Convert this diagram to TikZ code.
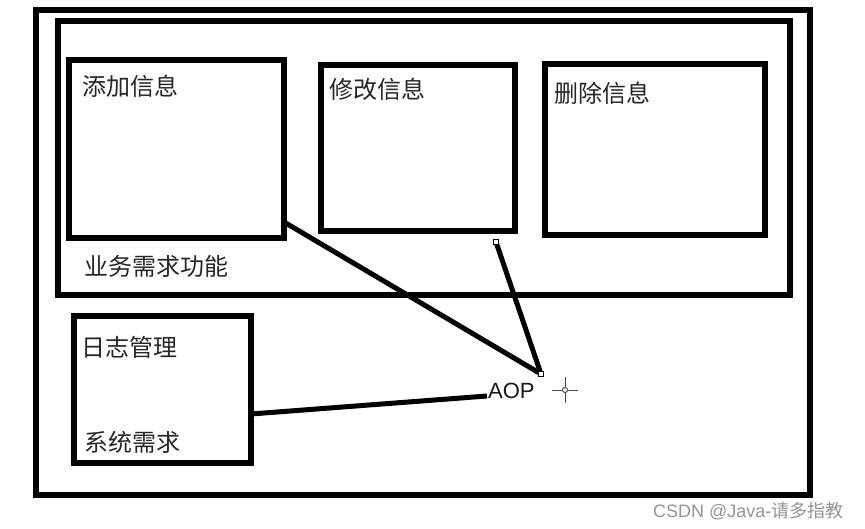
\documentclass[tikz,border=0pt]{standalone}
\usepackage{fontspec}
\setmainfont{Liberation Sans}
\newfontfamily\cjk{Noto Sans CJK SC}
\usetikzlibrary{calc}
\begin{document}
\begin{tikzpicture}[x=1pt,y=-1pt,
  box/.style={draw=black, line width=5.5pt, inner sep=0pt, outer sep=0pt, rectangle},
  link/.style={draw=black, line width=5pt},
  lbl/.style={anchor=west, inner sep=0pt, font=\cjk\fontsize{24}{24}\selectfont, text=black!85},
  handle/.style={draw=black, fill=white, line width=0.8pt, minimum size=4.5pt, inner sep=0pt, rectangle},
  crossmark/.style={draw=black!70, line width=1pt}]
\useasboundingbox[fill=white] (0,0) rectangle (865,529);
% boxes
\node[box, minimum width=774pt, minimum height=485pt] (outer) at (423,252.5) {};
\node[box, minimum width=732pt, minimum height=274pt] (biz) at (424,158) {};
\node[box, minimum width=215pt, minimum height=178pt] (add) at (176.5,149) {};
\node[box, minimum width=194pt, minimum height=166pt] (mod) at (418,148) {};
\node[box, minimum width=220pt, minimum height=171pt] (del) at (655,149.5) {};
\node[box, minimum width=177pt, minimum height=147pt] (log) at (162.5,389.5) {};
% labels
\node[lbl] (tadd) at (82,86) {添加信息};
\node[lbl] (tmod) at (329,89) {修改信息};
\node[lbl] (tdel) at (554,93) {删除信息};
\node[lbl] (tbiz) at (84,266) {业务需求功能};
\node[lbl] (tlog) at (81,347) {日志管理};
\node[lbl] (tsys) at (84,442) {系统需求};
\node[anchor=west, inner sep=0pt, font=\fontsize{22}{22}\selectfont, text=black!90] (aoptxt) at (488,391) {AOP};
% connector points
\coordinate (aop) at (541,374);
\coordinate (modend) at (496,242);
\coordinate (addend) at (284,222);
\coordinate (logend) at (251,414);
\coordinate (aopleft) at (487,396);
% connectors
\draw[link] (addend) -- (aop);
\draw[link] (modend) -- (aop);
\draw[link] (logend) -- (aopleft);
\node[handle] (h1) at (modend) {};
\node[handle] (h2) at (aop) {};
% crosshair
\coordinate (cross) at (565,390);
\draw[crossmark] ($(cross)+(-13,0)$) -- ($(cross)+(13,0)$);
\draw[crossmark] ($(cross)+(0,-13)$) -- ($(cross)+(0,13)$);
\draw[crossmark, fill=white] (cross) circle (2.5);
% watermark
\node[anchor=west, inner sep=0pt, text=black!42, font=\fontsize{18}{18}\selectfont] (wm) at (653,511) {CSDN @Java-{\cjk 请多指教}};
\end{tikzpicture}
\end{document}
